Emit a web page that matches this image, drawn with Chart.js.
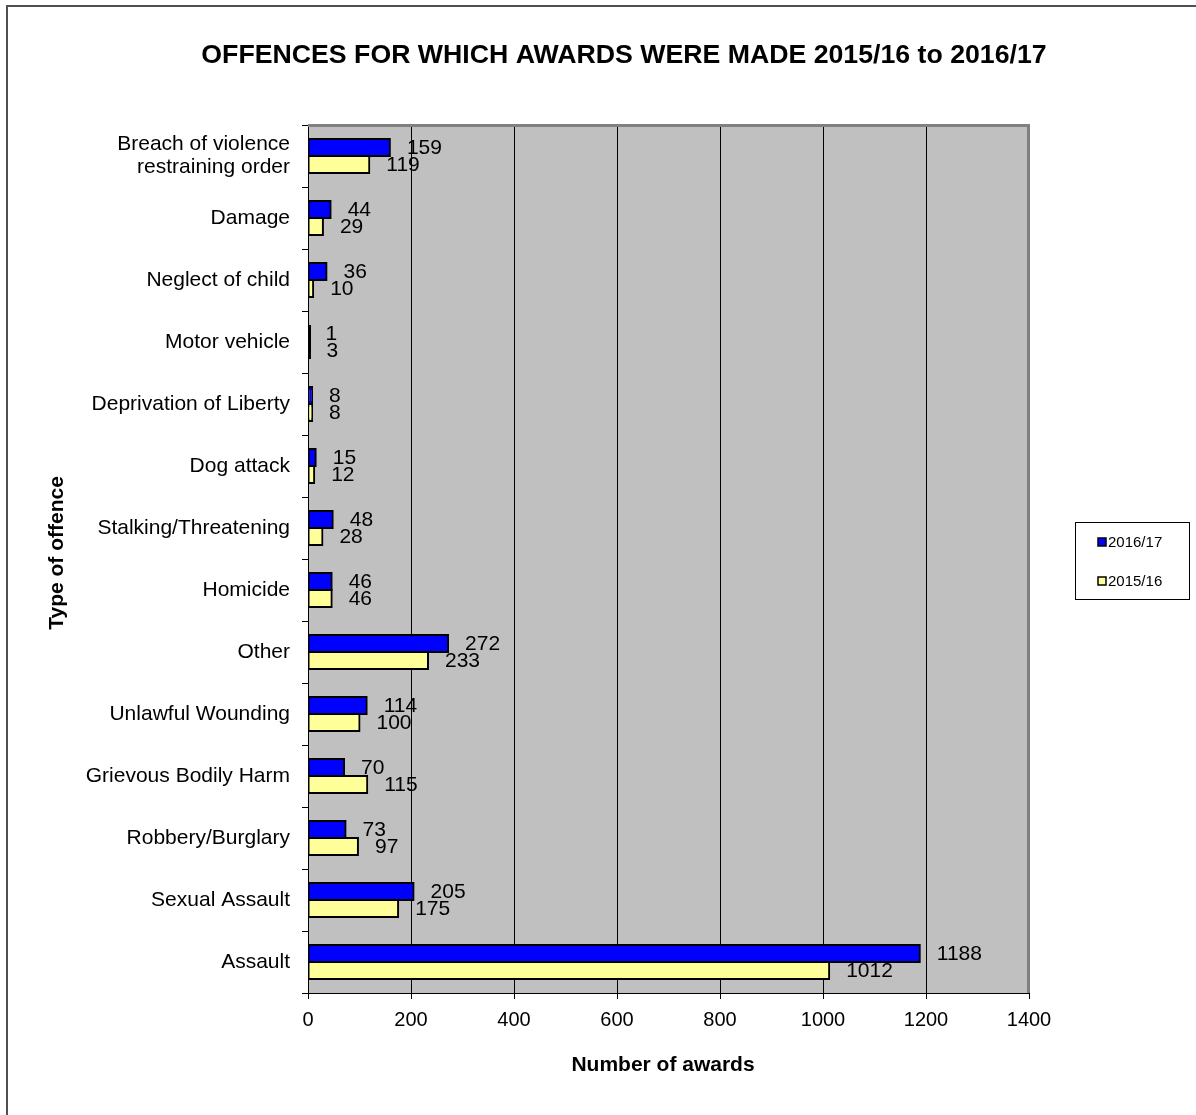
<!DOCTYPE html>
<html>
<head>
<meta charset="utf-8">
<title>Offences for which awards were made</title>
<script src="https://cdn.jsdelivr.net/npm/chart.js@4.4.1/dist/chart.umd.min.js"></script>
<style>
  html, body { margin: 0; padding: 0; background: #fff; }
  canvas { display: block; }
</style>
</head>
<body>
<canvas id="awardsChart" width="1196" height="1115"></canvas>
<script>
// Offence categories, top to bottom
const OFFENCES = [
  ["Breach of violence", "restraining order"],
  "Damage",
  "Neglect of child",
  "Motor vehicle",
  "Deprivation of Liberty",
  "Dog attack",
  "Stalking/Threatening",
  "Homicide",
  "Other",
  "Unlawful Wounding",
  "Grievous Bodily Harm",
  "Robbery/Burglary",
  "Sexual Assault",
  "Assault"
];
const AWARDS_2016_17 = [159, 44, 36, 1, 8, 15, 48, 46, 272, 114, 70, 73, 205, 1188];
const AWARDS_2015_16 = [119, 29, 10, 3, 8, 12, 28, 46, 233, 100, 115, 97, 175, 1012];
const SERIES_NAMES = ["2016/17", "2015/16"];
const X_MAX = 1400;
const X_STEP = 200;

const TITLE = "OFFENCES FOR WHICH AWARDS WERE MADE 2015/16 to 2016/17";
const X_TITLE = "Number of awards";
const Y_TITLE = "Type of offence";

const FONT = '"Liberation Sans", Arial, sans-serif';
const BLUE = "#0000ff";
const YELLOW = "#ffff99";

/* ---------- background, frame, titles, legend ---------- */
const chartFrame = {
  id: "chartFrame",
  beforeDraw(chart) {
    const { ctx, chartArea: a } = chart;
    ctx.save();
    ctx.fillStyle = "#fff";
    ctx.fillRect(0, 0, chart.width, chart.height);
    ctx.fillStyle = "#c0c0c0";
    ctx.fillRect(a.left, a.top, a.right - a.left, a.bottom - a.top);
    // outer border runs off the right/bottom edge
    ctx.strokeStyle = "#505050";
    ctx.lineWidth = 2;
    ctx.strokeRect(7, 6, chart.width + 20, chart.height + 20);
    ctx.restore();
  },
  afterDraw(chart) {
    const { ctx, chartArea: a } = chart;
    ctx.save();

    // grey top/right edge of plot area
    ctx.strokeStyle = "#808080";
    ctx.lineWidth = 3;
    ctx.beginPath();
    ctx.moveTo(a.left, a.top + 0.5);
    ctx.lineTo(a.right - 0.5, a.top + 0.5);
    ctx.lineTo(a.right - 0.5, a.bottom);
    ctx.stroke();

    ctx.fillStyle = "#000";
    ctx.textAlign = "center";
    ctx.textBaseline = "middle";

    ctx.font = "bold 26.7px " + FONT;
    ctx.fillText(TITLE, 624, 56);

    ctx.font = "bold 21px " + FONT;
    ctx.fillText(X_TITLE, 663, 1065);

    ctx.save();
    ctx.translate(57, 553);
    ctx.rotate(-Math.PI / 2);
    ctx.fillText(Y_TITLE, 0, 0);
    ctx.restore();

    // legend
    ctx.strokeStyle = "#000";
    ctx.lineWidth = 1;
    ctx.strokeRect(1075.5, 522.5, 114, 77);
    const colours = [BLUE, YELLOW];
    const rows = [542, 581];
    ctx.font = "15px " + FONT;
    ctx.textAlign = "left";
    SERIES_NAMES.forEach((name, i) => {
      ctx.fillStyle = colours[i];
      ctx.fillRect(1098, rows[i] - 4, 8, 8);
      ctx.lineWidth = 1.5;
      ctx.strokeRect(1098, rows[i] - 4, 8, 8);
      ctx.fillStyle = "#000";
      ctx.fillText(name, 1108, rows[i] + 1);
    });

    ctx.restore();
  },
  afterDatasetsDraw(chart) {
    // value labels beside the bar ends
    const { ctx } = chart;
    const x = chart.scales.x;
    ctx.save();
    ctx.font = "21px " + FONT;
    ctx.fillStyle = "#000";
    ctx.textAlign = "left";
    ctx.textBaseline = "middle";
    chart.data.datasets.forEach((ds, i) => {
      chart.getDatasetMeta(i).data.forEach((bar, j) => {
        ctx.fillText(String(ds.data[j]), x.getPixelForValue(ds.data[j]) + 17, bar.y + 1);
      });
    });
    ctx.restore();
  }
};

new Chart(document.getElementById("awardsChart"), {
  type: "bar",
  data: {
    labels: OFFENCES,
    datasets: [
      { label: SERIES_NAMES[0], data: AWARDS_2016_17, backgroundColor: BLUE },
      { label: SERIES_NAMES[1], data: AWARDS_2015_16, backgroundColor: YELLOW }
    ]
  },
  options: {
    indexAxis: "y",
    responsive: false,
    animation: false,
    devicePixelRatio: 1,
    layout: { padding: { left: 0, top: 125, right: 167, bottom: 0 } },
    datasets: {
      bar: {
        borderColor: "#000",
        borderWidth: 2,
        borderSkipped: false,
        // tiny values stay a plain black sliver
        inflateAmount: c => (c.raw < 5 ? 0 : 1),
        minBarLength: 3,
        categoryPercentage: 0.55,
        barPercentage: 1
      }
    },
    plugins: {
      legend: { display: false },
      tooltip: { enabled: false }
    },
    scales: {
      x: {
        min: 0,
        max: X_MAX,
        afterFit(scale) { scale.height = 122; },
        ticks: {
          stepSize: X_STEP,
          color: "#000",
          padding: 9,
          font: { family: FONT, size: 20 },
          callback: v => String(v)
        },
        grid: {
          color: c => (c.tick && c.tick.value === X_MAX ? "#808080" : "#000"),
          tickColor: "#000",
          tickLength: 6,
          lineWidth: 1
        },
        border: { color: "#000", width: 1 }
      },
      y: {
        afterFit(scale) { scale.width = 308; },
        ticks: {
          color: "#000",
          padding: 12,
          font: { family: FONT, size: 21, lineHeight: 1.1 }
        },
        grid: {
          offset: true,
          drawOnChartArea: false,
          tickColor: "#000",
          tickLength: 6
        },
        border: { color: "#000", width: 1 }
      }
    }
  },
  plugins: [chartFrame]
});
</script>
</body>
</html>
